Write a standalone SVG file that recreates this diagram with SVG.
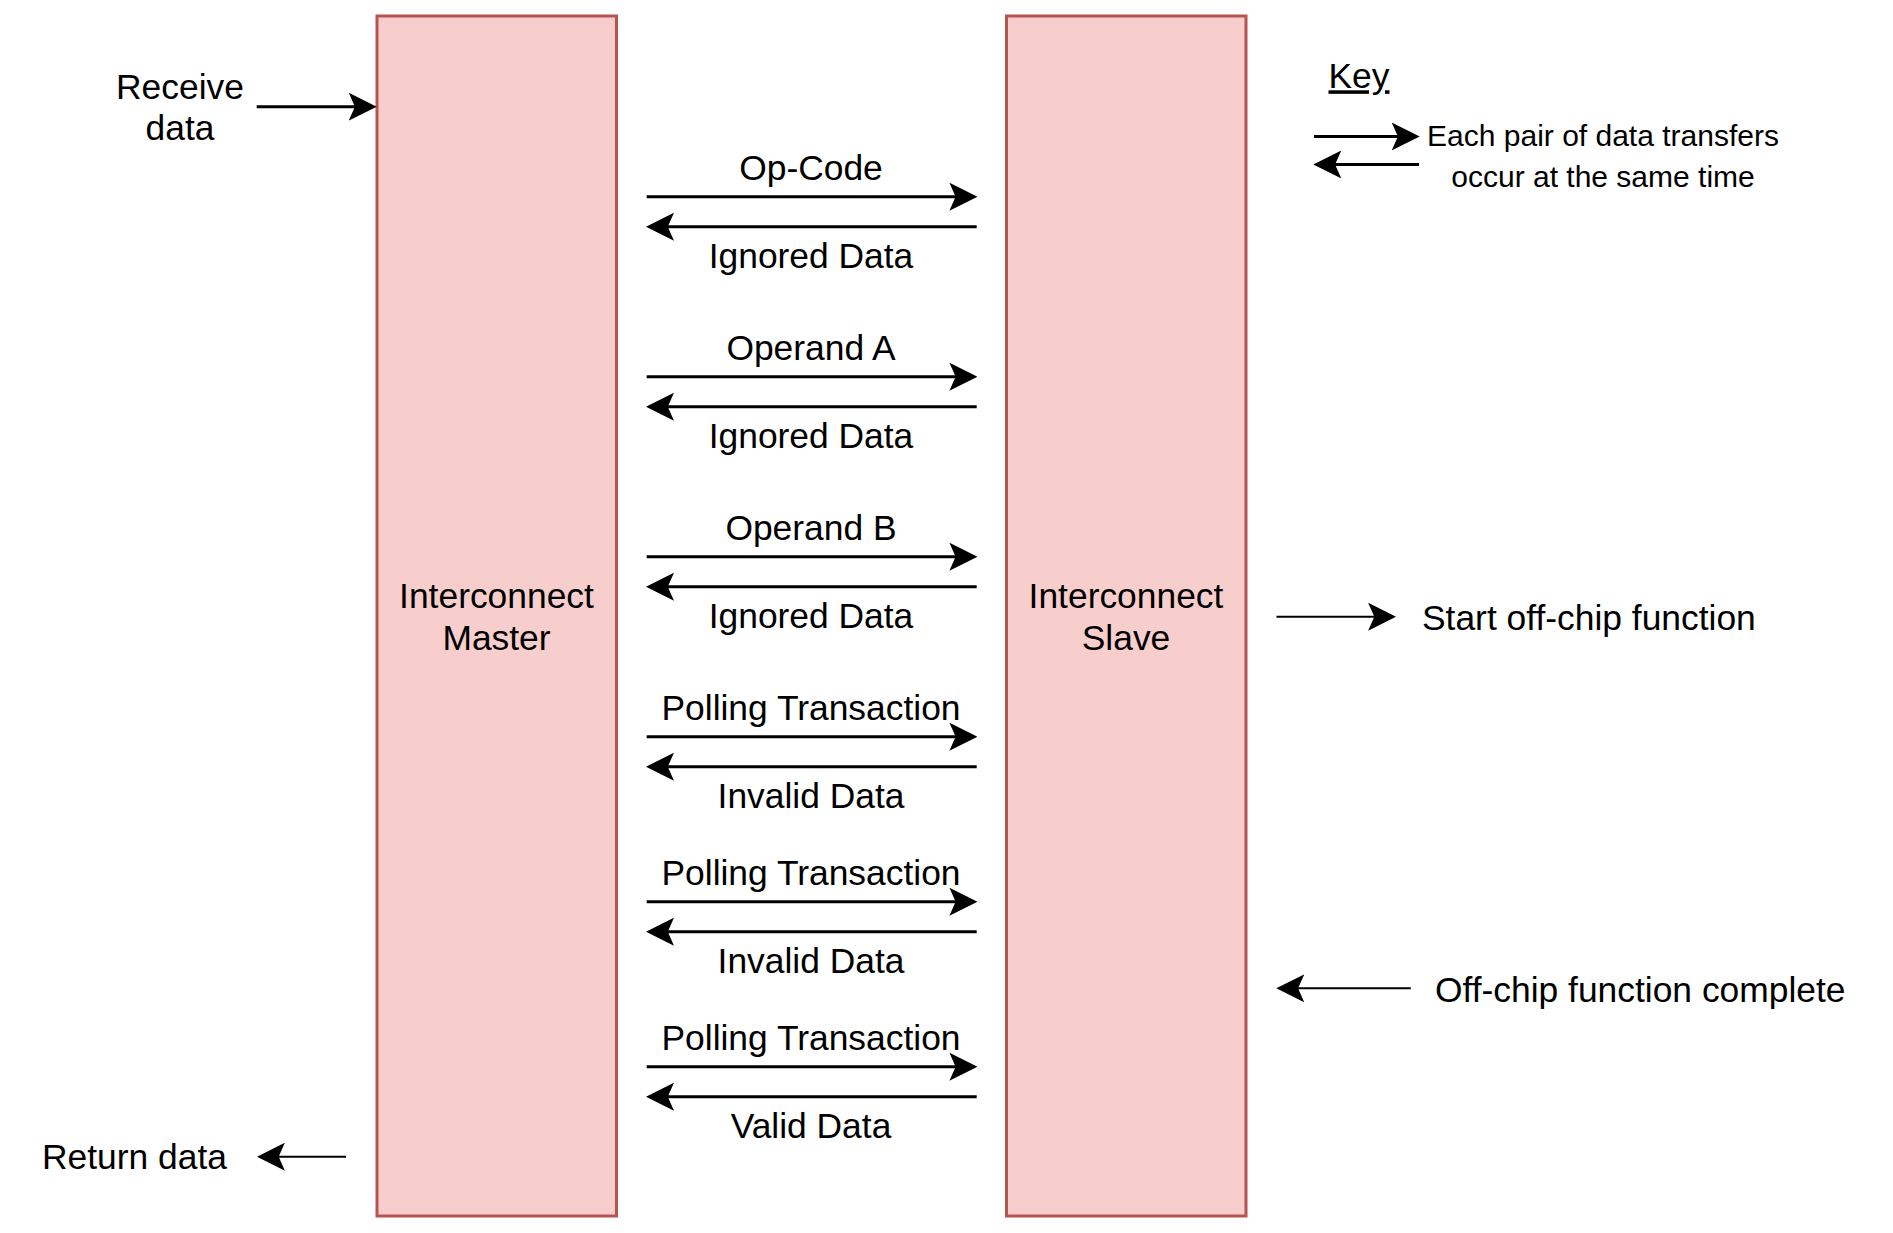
<svg xmlns="http://www.w3.org/2000/svg" width="1893" height="1233" viewBox="0 0 1893 1233">
<style>
  .blk { fill: #f8cecc; stroke: #b85450; stroke-width: 3; }
  text { font-family: "Liberation Sans", Arial, sans-serif; fill: #000; }
  .t { font-size: 35.4px; }
  .c { text-anchor: middle; }
  .k { font-size: 30px; text-anchor: middle; }
  .w3 { stroke: #000; stroke-width: 3; fill: none; marker-end: url(#ah); }
  .w2 { stroke: #000; stroke-width: 2; fill: none; marker-end: url(#ah); }
</style>
<defs>
  <marker id="ah" markerUnits="userSpaceOnUse" markerWidth="28" markerHeight="28" viewBox="0 0 27 27" refX="8" refY="13.5" orient="auto">
    <path d="M0,0 L27,13.5 L0,27 L6,13.5 Z" fill="#000"/>
  </marker>
</defs>
<rect width="1893" height="1233" fill="#fff"/>

<g id="master">
  <rect class="blk" x="377" y="16" width="239.5" height="1200"/>
  <text class="t c" x="496.5" y="608.3">Interconnect</text>
  <text class="t c" x="496.5" y="650">Master</text>
</g>
<g id="slave">
  <rect class="blk" x="1006.5" y="16" width="239.5" height="1200"/>
  <text class="t c" x="1126" y="608.3">Interconnect</text>
  <text class="t c" x="1126" y="650">Slave</text>
</g>

<g id="receive-label">
  <text class="t c" x="180" y="99">Receive</text>
  <text class="t c" x="180" y="140">data</text>
</g>
<g id="return-label">
  <text class="t" x="42" y="1169.3">Return data</text>
</g>
<g id="start-label">
  <text class="t" x="1422" y="630">Start off-chip function</text>
</g>
<g id="complete-label">
  <text class="t" x="1435" y="1002">Off-chip function complete</text>
</g>
<g id="key">
  <text class="t" x="1328.5" y="88.3" text-decoration="underline">Key</text>
  <text class="k" x="1603" y="146">Each pair of data transfers</text>
  <text class="k" x="1603" y="187">occur at the same time</text>
</g>

<g id="labels">
  <text class="t c" x="811" y="180">Op-Code</text>
  <text class="t c" x="811" y="268.3">Ignored Data</text>
  <text class="t c" x="811" y="360">Operand A</text>
  <text class="t c" x="811" y="448.3">Ignored Data</text>
  <text class="t c" x="811" y="540">Operand B</text>
  <text class="t c" x="811" y="628.3">Ignored Data</text>
  <text class="t c" x="811" y="720">Polling Transaction</text>
  <text class="t c" x="811" y="808.3">Invalid Data</text>
  <text class="t c" x="811" y="885">Polling Transaction</text>
  <text class="t c" x="811" y="973.3">Invalid Data</text>
  <text class="t c" x="811" y="1050">Polling Transaction</text>
  <text class="t c" x="811" y="1138.3">Valid Data</text>
</g>

<g id="connectors">
  <line class="w3" x1="646.7" y1="196.7" x2="957.7" y2="196.7"/>
  <line class="w3" x1="976.7" y1="226.7" x2="665.7" y2="226.7"/>
  <line class="w3" x1="646.7" y1="376.7" x2="957.7" y2="376.7"/>
  <line class="w3" x1="976.7" y1="406.7" x2="665.7" y2="406.7"/>
  <line class="w3" x1="646.7" y1="556.7" x2="957.7" y2="556.7"/>
  <line class="w3" x1="976.7" y1="586.7" x2="665.7" y2="586.7"/>
  <line class="w3" x1="646.7" y1="736.7" x2="957.7" y2="736.7"/>
  <line class="w3" x1="976.7" y1="766.7" x2="665.7" y2="766.7"/>
  <line class="w3" x1="646.7" y1="901.7" x2="957.7" y2="901.7"/>
  <line class="w3" x1="976.7" y1="931.7" x2="665.7" y2="931.7"/>
  <line class="w3" x1="646.7" y1="1066.7" x2="957.7" y2="1066.7"/>
  <line class="w3" x1="976.7" y1="1096.7" x2="665.7" y2="1096.7"/>
  <line class="w3" x1="256.7" y1="106.7" x2="357" y2="106.7"/>
  <line class="w2" x1="346" y1="1156.7" x2="276.6" y2="1156.7"/>
  <line class="w2" x1="1276.5" y1="616.7" x2="1376.4" y2="616.7"/>
  <line class="w2" x1="1410.8" y1="988.3" x2="1296" y2="988.3"/>
  <line class="w3" x1="1314" y1="136.5" x2="1400" y2="136.5"/>
  <line class="w3" x1="1419" y1="164.5" x2="1333" y2="164.5"/>
</g>
</svg>
